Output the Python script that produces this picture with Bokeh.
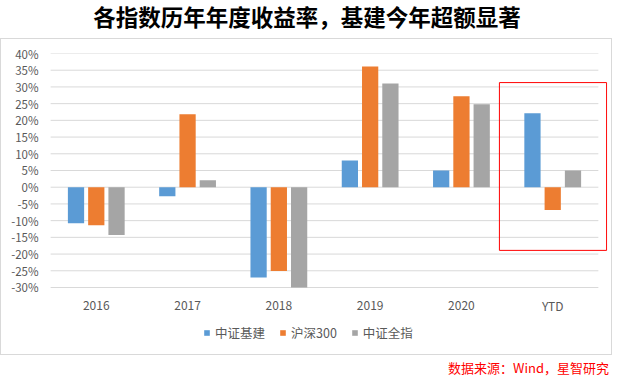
from bokeh.plotting import figure
from bokeh.models import (ColumnDataSource, FactorRange, FixedTicker, PrintfTickFormatter,
                          Legend, LegendItem, BoxAnnotation, Div)
from bokeh.core.properties import value
from bokeh.layouts import column
from bokeh.transform import dodge
from bokeh.embed import file_html
from bokeh.resources import INLINE

years = ["2016", "2017", "2018", "2019", "2020", "YTD"]
infra = [-10.8, -2.7, -27.0, 8.0, 5.0, 22.1]      # 中证基建
hs300 = [-11.4, 21.8, -25.1, 36.1, 27.2, -6.8]    # 沪深300
allidx = [-14.3, 2.1, -30.0, 31.0, 24.8, 5.0]     # 中证全指
series_cols = ["infra", "hs300", "allidx"]
series_names = ["中证基建", "沪深300", "中证全指"]
colors = ["#5B9BD5", "#ED7D31", "#A5A5A5"]
y_ticks = list(range(-30, 45, 5))
y_top, y_bottom = 40, -30

title_text = "各指数历年年度收益率，基建今年超额显著"
source_text = "数据来源：Wind，星智研究"
FONT = "Noto Sans CJK SC"

src = ColumnDataSource(dict(year=years, infra=infra, hs300=hs300, allidx=allidx))

# frame extends below the -30% line to host the category labels and legend
x_range = FactorRange(*years, range_padding=0.1, range_padding_units="absolute")
p = figure(x_range=x_range, y_range=(-48.55, y_top), width=612, height=317,
           output_backend="svg", toolbar_location=None,
           min_border_left=40, min_border_right=6, min_border_top=14, min_border_bottom=7,
           outline_line_color=None, background_fill_color="white", border_fill_color="white",
           styles={"border": "1px solid #D9D9D9"})
p.xgrid.visible = False
p.ygrid.visible = False
p.xaxis.visible = False

# horizontal gridlines spanning the category area only
p.segment(x0=[0] * len(y_ticks), x1=[len(years)] * len(y_ticks), y0=y_ticks, y1=y_ticks,
          line_color="#D9D9D9", line_width=1)

offsets = [-0.222, 0.0, 0.222]
renderers = []
for col, off, c in zip(series_cols, offsets, colors):
    r = p.vbar(x=dodge("year", off, range=p.x_range), top=col, bottom=0, width=0.178,
               source=src, fill_color=c, line_color=None)
    renderers.append(r)

# category labels below the -30% line
lab_src = ColumnDataSource(dict(year=years, y=[y_bottom - 5.4] * len(years)))
p.text(x="year", y="y", text="year", source=lab_src, text_align="center",
       text_baseline="middle", text_color="#595959", text_font=value(FONT),
       text_font_size=value("12px"))

yax = p.yaxis[0]
yax.ticker = FixedTicker(ticks=y_ticks)
yax.formatter = PrintfTickFormatter(format="%d%%")
yax.axis_line_color = None
yax.major_tick_line_color = None
yax.minor_tick_line_color = None
yax.major_tick_out = 0
yax.major_tick_in = 0
yax.major_label_text_color = "#595959"
yax.major_label_text_font = FONT
yax.major_label_text_font_size = "11.5px"
yax.major_label_standoff = 3

legend = Legend(items=[LegendItem(label=n, renderers=[r]) for n, r in zip(series_names, renderers)],
                orientation="horizontal", location=(162, 7),
                label_text_font=FONT, label_text_font_size="12.5px", label_text_color="#595959",
                glyph_width=7, glyph_height=7, label_standoff=5, spacing=14,
                label_height=16, border_line_color=None, background_fill_alpha=0,
                padding=2, margin=0)
p.add_layout(legend)

box = BoxAnnotation(left=4.916, right=6.09, top=31.3, bottom=-18.9,
                    fill_alpha=0, line_color="#FF0000", line_alpha=1.0, line_width=1)
p.add_layout(box)

title_div = Div(text=f'<div style="width:604px;text-align:center;font-weight:bold;font-size:22.5px;'
                     f'font-family:\'{FONT}\';line-height:22px;color:#000;">{title_text}</div>',
                width=604, height=28)
source_div = Div(text=f'<div style="width:604px;text-align:right;font-size:13px;color:#FF0000;'
                      f'font-family:\'{FONT}\';line-height:16px;">{source_text}</div>',
                 width=604, height=16)

layout = column(title_div, p, source_div, spacing=0)

open("out.html", "w").write(file_html(layout, INLINE))
